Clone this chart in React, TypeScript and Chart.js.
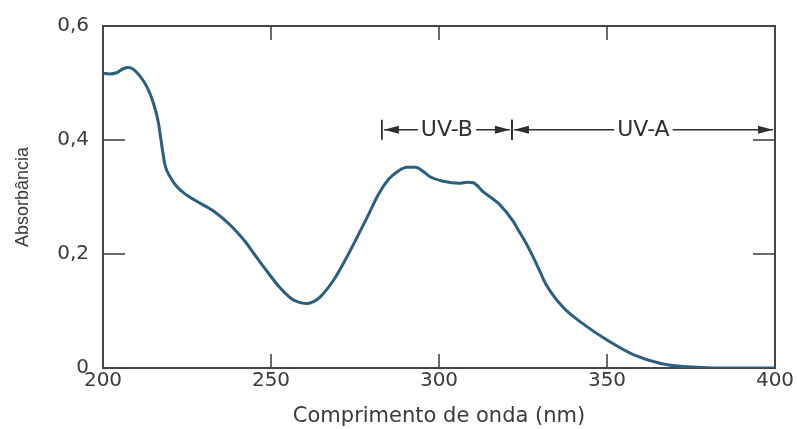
import React, { useEffect, useRef } from "react";
import { Chart, registerables } from "chart.js";

Chart.register(...registerables);

// ---- data ----
const wavelengths = [
  200, 202, 204, 206, 207.5, 209, 211, 213, 215, 216.5, 217.5, 218.5, 220, 222, 225, 228,
  233, 238, 242, 245, 248, 252.5, 256, 258, 260.5, 262.5, 264.5, 268.5, 273.5, 278.5, 282,
  285, 287.5, 290.5, 293, 295.5, 297.5, 301, 306, 308.5, 310.2, 313, 318, 322, 324, 326,
  328, 330, 332, 337, 343, 350, 358, 366, 374, 382, 390, 400,
];
const absorbance = [
  0.517, 0.516, 0.518, 0.525, 0.527, 0.524, 0.512, 0.494, 0.465, 0.43, 0.39, 0.355, 0.335,
  0.318, 0.303, 0.292, 0.275, 0.25, 0.224, 0.2, 0.176, 0.142, 0.122, 0.116, 0.113, 0.116,
  0.124, 0.153, 0.205, 0.263, 0.305, 0.331, 0.344, 0.352, 0.352, 0.344, 0.335, 0.328, 0.324,
  0.326, 0.325, 0.31, 0.287, 0.258, 0.238, 0.218, 0.195, 0.17, 0.145, 0.106, 0.077, 0.049,
  0.023, 0.008, 0.002, 0.0, 0.0, 0.0,
];
const xTickValues = [200, 250, 300, 350, 400];
const xTickLabels = ["200", "250", "300", "350", "400"];
const yTickValues = [0, 0.2, 0.4, 0.6];
const yTickLabels = ["0", "0,2", "0,4", "0,6"];
const uvLabels = ["UV-B", "UV-A"];
const uvStarts = [283, 321.7];
const uvEnds = [321.7, 400];
const uvLevel = 0.418;

const xTitle = "Comprimento de onda (nm)";
const yTitle = "Absorbância";

// ---- styles ----
const FONT = "'DejaVu Sans', 'Liberation Sans', sans-serif";
const TEXT_COLOR = "#3a3a3a";
const AXIS_COLOR = "#454545";
const CURVE_COLOR = "#2b5f80";

const framePlugin = {
  id: "frame",
  beforeDatasetsDraw(chart: any) {
    const { ctx, chartArea, scales } = chart;
    const { left, right, top, bottom } = chartArea;
    const xs = scales.x;
    const ys = scales.y;
    ctx.save();
    ctx.strokeStyle = AXIS_COLOR;
    ctx.lineWidth = 2;
    ctx.strokeRect(left, top, right - left, bottom - top);
    ctx.lineWidth = 1.6;
    const line = (x1: number, y1: number, x2: number, y2: number) => {
      ctx.beginPath();
      ctx.moveTo(x1, y1);
      ctx.lineTo(x2, y2);
      ctx.stroke();
    };
    xTickValues.slice(1, -1).forEach((v) => {
      const px = xs.getPixelForValue(v);
      line(px, bottom, px, bottom - 14);
      line(px, top, px, top + 14);
    });
    yTickValues.slice(1, -1).forEach((v) => {
      const py = ys.getPixelForValue(v);
      line(left, py, left + 22, py);
      line(right, py, right - 22, py);
    });
    ctx.restore();
  },
  afterDatasetsDraw(chart: any) {
    const { ctx, scales } = chart;
    const xs = scales.x;
    const ys = scales.y;
    const py = ys.getPixelForValue(uvLevel);
    ctx.save();
    ctx.strokeStyle = "#2e2e2e";
    ctx.fillStyle = "#2e2e2e";
    ctx.font = `22px ${FONT}`;
    ctx.textAlign = "center";
    ctx.textBaseline = "middle";
    const head = (tip: number, dir: number) => {
      ctx.beginPath();
      ctx.moveTo(tip, py);
      ctx.lineTo(tip + dir * 15, py - 4);
      ctx.lineTo(tip + dir * 15, py + 4);
      ctx.closePath();
      ctx.fill();
    };
    const bar = (px: number) => {
      ctx.lineWidth = 1.8;
      ctx.beginPath();
      ctx.moveTo(px, py - 10);
      ctx.lineTo(px, py + 10);
      ctx.stroke();
    };
    uvLabels.forEach((label, i) => {
      const a = xs.getPixelForValue(uvStarts[i]);
      const b = xs.getPixelForValue(uvEnds[i]);
      const mid = (a + b) / 2;
      const w = ctx.measureText(label).width;
      bar(a);
      if (uvEnds[i] < xs.max) bar(b);
      ctx.lineWidth = 1.5;
      ctx.beginPath();
      ctx.moveTo(a + 2, py);
      ctx.lineTo(mid - w / 2 - 3, py);
      ctx.moveTo(mid + w / 2 + 3, py);
      ctx.lineTo(b - 2, py);
      ctx.stroke();
      head(a + 2, 1);
      head(b - 2, -1);
      ctx.fillText(label, mid, py + 1);
    });
    ctx.restore();
  },
};

export default function App() {
  const canvasRef = useRef<HTMLCanvasElement | null>(null);

  useEffect(() => {
    const canvas = canvasRef.current;
    if (!canvas) return;
    const chart = new Chart(canvas, {
      type: "line",
      data: {
        datasets: [
          {
            data: wavelengths.map((x, i) => ({ x, y: absorbance[i] })),
            borderColor: CURVE_COLOR,
            borderWidth: 3,
            pointRadius: 0,
            cubicInterpolationMode: "monotone",
            fill: false,
          },
        ],
      },
      options: {
        animation: false,
        responsive: false,
        devicePixelRatio: 1,
        layout: { padding: { left: 0, right: 22, top: 23, bottom: 0 } },
        plugins: {
          legend: { display: false },
          tooltip: { enabled: false },
        },
        scales: {
          x: {
            type: "linear",
            min: 200,
            max: 400,
            afterBuildTicks: (s: any) => {
              s.ticks = xTickValues.map((value) => ({ value }));
            },
            ticks: {
              callback: (_v: any, i: number) => xTickLabels[i],
              color: TEXT_COLOR,
              font: { family: FONT, size: 20 },
              padding: 1,
              maxRotation: 0,
            },
            grid: { display: false, drawTicks: false },
            border: { display: false },
            title: {
              display: true,
              text: xTitle,
              color: TEXT_COLOR,
              font: { family: FONT, size: 21 },
              padding: { top: 0, bottom: 0 },
            },
            afterFit: (s: any) => {
              s.height = 61;
            },
          },
          y: {
            type: "linear",
            min: 0,
            max: 0.6,
            afterBuildTicks: (s: any) => {
              s.ticks = yTickValues.map((value) => ({ value }));
            },
            ticks: {
              callback: (_v: any, i: number) => yTickLabels[i],
              color: TEXT_COLOR,
              font: { family: FONT, size: 20 },
              padding: 14,
            },
            grid: { display: false, drawTicks: false },
            border: { display: false },
            title: {
              display: true,
              text: yTitle,
              color: TEXT_COLOR,
              font: { family: "'Liberation Sans', Arial, sans-serif", size: 18 },
              padding: { top: 12, bottom: 0 },
            },
            afterFit: (s: any) => {
              s.width = 103;
            },
          },
        },
      },
      plugins: [framePlugin],
    } as any);
    return () => chart.destroy();
  }, []);

  return (
    <div style={{ position: "fixed", left: 0, top: 0, width: 797, height: 429, background: "#fff" }}>
      <canvas ref={canvasRef} width={797} height={429} style={{ display: "block" }} />
    </div>
  );
}
